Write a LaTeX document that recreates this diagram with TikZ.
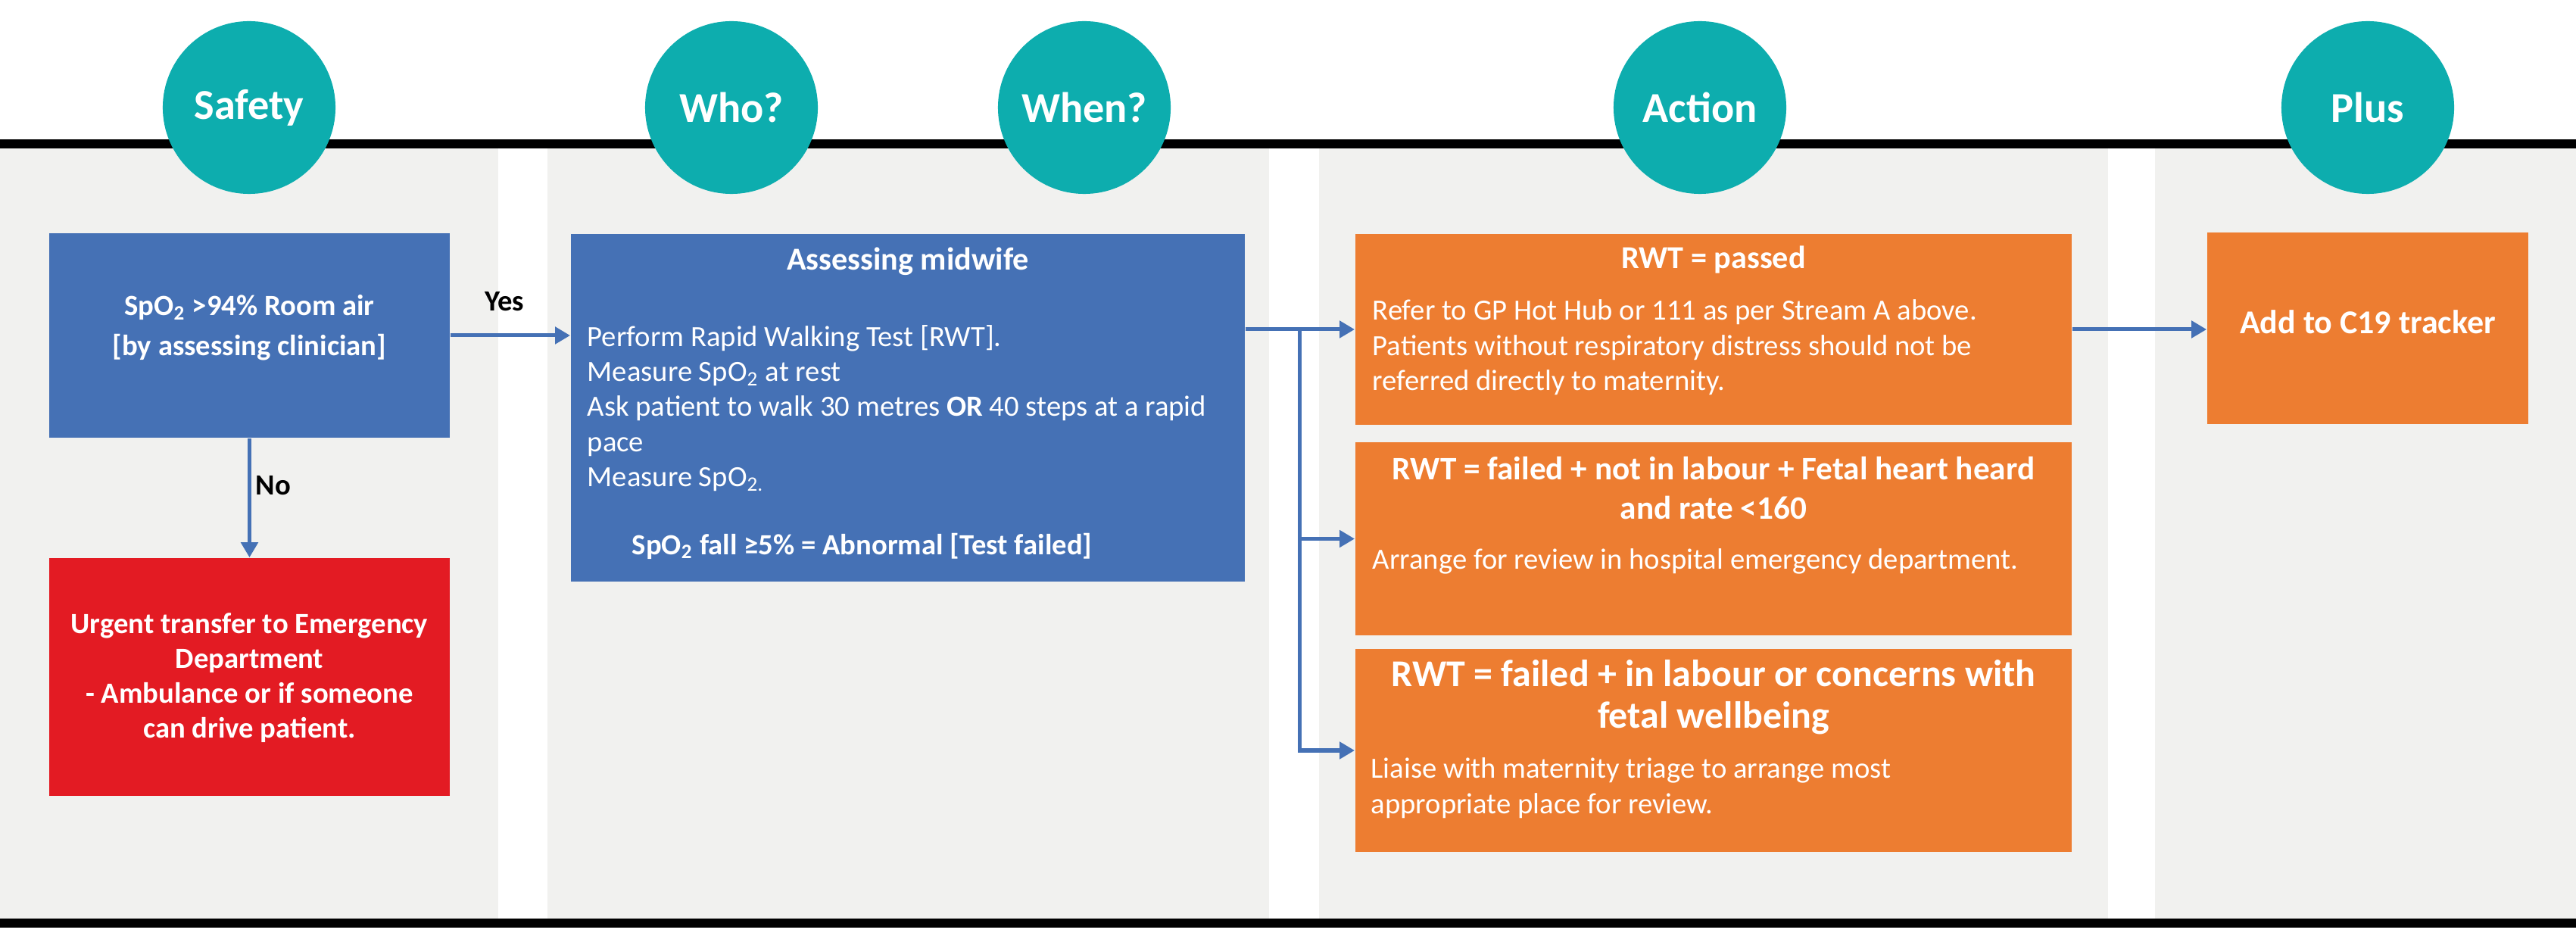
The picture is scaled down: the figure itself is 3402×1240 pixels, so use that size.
\documentclass[tikz,border=0pt]{standalone}
\usepackage{fontspec}
\setmainfont{Carlito}
\usetikzlibrary{arrows.meta}
\definecolor{boxblue}{HTML}{4571B5}
\definecolor{boxorange}{HTML}{ED7D31}
\definecolor{boxred}{HTML}{E31B23}
\definecolor{headteal}{HTML}{0DADAE}
\definecolor{panelgray}{HTML}{F1F1EF}
\begin{document}
\begin{tikzpicture}[x=0.01cm,y=-0.01cm,
  headcirc/.style={circle,fill=headteal,minimum size=2.28cm,inner sep=0pt,text=white,font=\bfseries\fontsize{16}{19}\selectfont},
  boxbase/.style={rectangle,inner sep=0pt},
  bluebox/.style={boxbase,fill=boxblue},
  orangebox/.style={boxbase,fill=boxorange},
  redbox/.style={boxbase,fill=boxred},
  wtext/.style={text=white,inner sep=0pt},
  bodytext/.style={wtext,align=left,font=\fontsize{11}{13.2}\selectfont},
  headtext/.style={wtext,align=center,font=\bfseries\fontsize{12}{14.6}\selectfont},
  lbl/.style={text=black,inner sep=0pt,font=\bfseries\fontsize{11}{13}\selectfont},
  conn/.style={draw=boxblue,line width=0.05cm},
  arr/.style={conn,-{Triangle[length=0.2cm,width=0.22cm]}}
]
\useasboundingbox (0,0) rectangle (3402,1240);
\fill[white] (0,0) rectangle (3402,1240);
% panels
\fill[panelgray] (0,196) rectangle (658,1213);
\fill[panelgray] (723,196) rectangle (1676,1213);
\fill[panelgray] (1742,196) rectangle (2784,1213);
\fill[panelgray] (2846,196) rectangle (3402,1213);
% black rules
\fill[black] (0,184) rectangle (3402,196);
\fill[black] (0,1213) rectangle (3402,1225);
% header circles
\node[headcirc] (cSafety) at (329,142) {Safety};
\node[headcirc] (cWho) at (966,142) {Who?};
\node[headcirc] (cWhen) at (1432,142) {When?};
\node[headcirc] (cAction) at (2245,142) {Action};
\node[headcirc] (cPlus) at (3127,142) {Plus};
% boxes
\node[bluebox,minimum width=5.29cm,minimum height=2.70cm] (b1) at (329.5,443) {};
\node[redbox,minimum width=5.29cm,minimum height=3.14cm] (red) at (329.5,894) {};
\node[bluebox,minimum width=8.90cm,minimum height=4.59cm] (b2) at (1199,538.5) {};
\node[orangebox,minimum width=9.46cm,minimum height=2.52cm] (oA) at (2263,435) {};
\node[orangebox,minimum width=9.46cm,minimum height=2.55cm] (oB) at (2263,711.5) {};
\node[orangebox,minimum width=9.46cm,minimum height=2.68cm] (oC) at (2263,991) {};
\node[orangebox,minimum width=4.24cm,minimum height=2.53cm] (plus) at (3127,433.5) {};
% texts
\node[headtext,font=\bfseries\fontsize{11}{15}\selectfont] (t1) at (329.5,433) {SpO\textsubscript{2} >94\% Room air\\{[by assessing clinician]}};
\node[headtext,font=\bfseries\fontsize{11}{13.1}\selectfont] (tred) at (329.5,895) {Urgent transfer to Emergency\\Department\\- Ambulance or if someone\\can drive patient.};
\node[headtext] (t2h) at (1199,345) {Assessing midwife};
\node[bodytext,anchor=west] (t2b) at (775,539) {Perform Rapid Walking Test [RWT].\\Measure SpO\textsubscript{2} at rest\\Ask patient to walk 30 metres \textbf{OR} 40 steps at a rapid\\pace\\Measure SpO\textsubscript{2.}};
\node[wtext,anchor=west,font=\bfseries\fontsize{11}{13.2}\selectfont] (t2f) at (834,721) {SpO\textsubscript{2} fall ≥5\% = Abnormal [Test failed]};
\node[headtext] (tAh) at (2263,343) {RWT = passed};
\node[bodytext,anchor=west] (tAb) at (1812,459) {Refer to GP Hot Hub or 111 as per Stream A above.\\Patients without respiratory distress should not be\\referred directly to maternity.};
\node[headtext,font=\bfseries\fontsize{12.3}{14.6}\selectfont] (tBh) at (2263,644.5) {RWT = failed + not in labour + Fetal heart heard\\and rate <160};
\node[bodytext,anchor=west] (tBb) at (1812,741) {Arrange for review in hospital emergency department.};
\node[headtext,font=\bfseries\fontsize{14.2}{15.6}\selectfont] (tCh) at (2263,920.5) {RWT = failed + in labour or concerns with\\fetal wellbeing};
\node[bodytext,anchor=west] (tCb) at (1810,1040.5) {Liaise with maternity triage to arrange most\\appropriate place for review.};
\node[headtext,font=\bfseries\fontsize{12.5}{15}\selectfont] (tP) at (3127,425) {Add to C19 tracker};
% connectors
\draw[arr] (b1.east) -- (b1.east -| b2.west);
\node[lbl] (lyes) at (666,398) {Yes};
\draw[arr] (b1.south) -- (red.north);
\node[lbl] (lno) at (361,641) {No};
\coordinate (j1) at (1716,435);
\draw[arr] (b2.east |- oA.west) -- (oA.west);
\draw[arr] (j1) |- (oB.west);
\draw[arr] (j1) |- (oC.west);
\draw[arr] (oA.east) -- (oA.east -| plus.west);
\end{tikzpicture}
\end{document}
